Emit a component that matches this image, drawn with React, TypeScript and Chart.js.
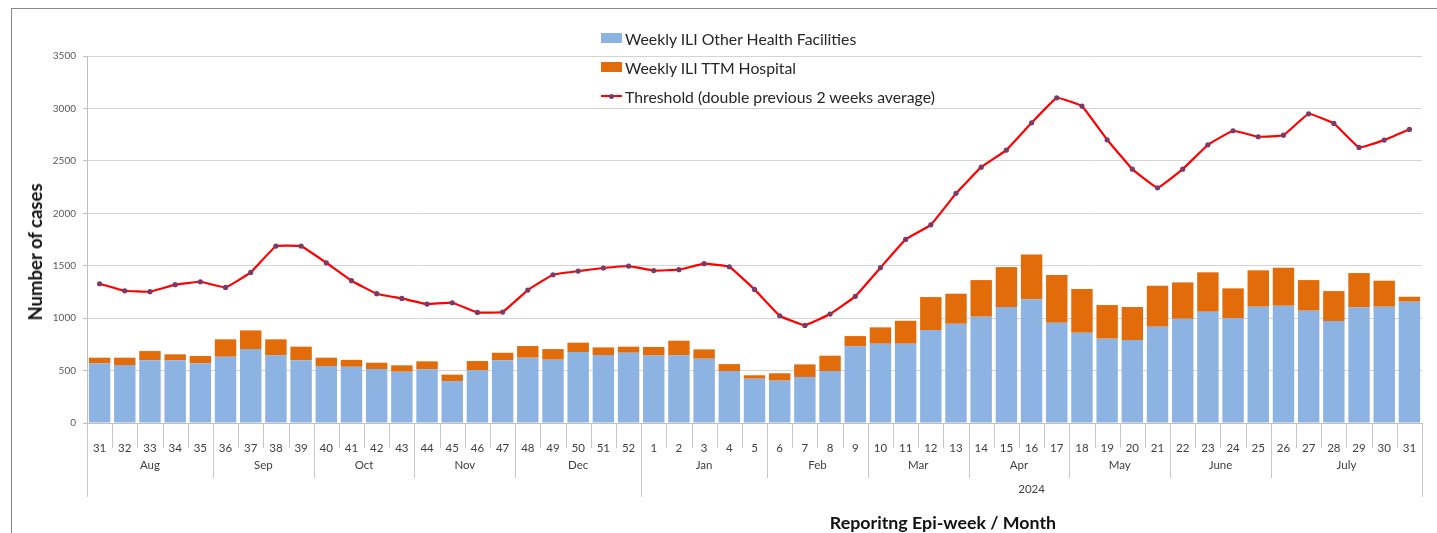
import React, { useEffect, useRef } from "react";
import { Chart, registerables } from "chart.js";

Chart.register(...registerables);

const weeks = [
  "31", "32", "33", "34", "35", "36", "37", "38", "39", "40", "41", "42", "43", "44", "45", "46", "47", "48", "49", "50", "51", "52",
  "1", "2", "3", "4", "5", "6", "7", "8", "9", "10", "11", "12", "13", "14", "15", "16", "17", "18", "19", "20", "21", "22", "23", "24", "25", "26", "27", "28", "29", "30", "31",
];

const otherFacilities = [
  569, 553, 598, 598, 569, 632, 705, 645, 598, 543, 536, 515, 489, 512, 400, 502, 598, 623, 604, 677, 648, 670,
  643, 645, 613, 496, 423, 404, 439, 496, 731, 756, 756, 887, 946, 1014, 1106, 1179, 956, 861, 804, 791, 918, 994, 1061, 1001, 1109, 1118, 1071, 972, 1103, 1109, 1157,
];

const ttmHospital = [
  54, 70, 88, 57, 70, 166, 178, 153, 130, 80, 66, 60, 61, 76, 61, 89, 72, 111, 101, 89, 73, 58,
  82, 140, 89, 66, 32, 70, 120, 146, 98, 156, 219, 314, 287, 349, 381, 429, 455, 416, 321, 315, 391, 347, 376, 283, 347, 363, 292, 286, 327, 248, 47,
];

const threshold = [
  1328, 1261, 1252, 1319, 1347, 1293, 1436, 1687, 1687, 1528, 1357, 1233, 1188, 1134, 1147, 1055, 1058, 1268, 1414, 1449, 1478, 1497,
  1454, 1462, 1519, 1490, 1274, 1023, 931, 1039, 1208, 1481, 1751, 1890, 2190, 2440, 2603, 2863, 3101, 3022, 2701, 2421, 2243, 2421, 2653, 2787, 2730, 2745, 2949, 2857, 2628, 2698, 2800,
];

const monthLabels = ["Aug", "Sep", "Oct", "Nov", "Dec", "Jan", "Feb", "Mar", "Apr", "May", "June", "July"];
const monthWeekCounts = [5, 4, 4, 4, 5, 5, 4, 4, 4, 4, 4, 6];
const yearLabels = ["", "2024"];
const yearWeekCounts = [22, 31];

const yTicks = [0, 500, 1000, 1500, 2000, 2500, 3000, 3500];

const seriesNames = [
  "Weekly ILI Other Health Facilities",
  "Weekly ILI TTM Hospital",
  "Threshold (double previous 2 weeks average)",
];

const BLUE = "#8db3e2";
const ORANGE = "#e36c0a";
const RED = "#ff0000";
const MARKER = "#7a3b6a";
const SEP = "#c6c6c6";
const FONT = "Lato, 'Open Sans', sans-serif";

const hierAxisPlugin = {
  id: "hierAxis",
  afterDraw(chart: any) {
    const ctx = chart.ctx;
    const x = chart.scales.x;
    const bottom = chart.chartArea.bottom;
    const n = weeks.length;
    const step = x.getPixelForValue(1) - x.getPixelForValue(0);
    const edge = (i: number) => x.getPixelForValue(i) - step / 2;
    const weekRow = 25;
    const monthRow = 55;
    const yearRow = 74;

    ctx.save();
    ctx.strokeStyle = SEP;
    ctx.lineWidth = 1;
    const vline = (px: number, len: number) => {
      const xx = Math.round(px) + 0.5;
      ctx.beginPath();
      ctx.moveTo(xx, bottom);
      ctx.lineTo(xx, bottom + len);
      ctx.stroke();
    };
    for (let i = 0; i <= n; i++) vline(edge(i), weekRow);

    let idx = 0;
    ctx.fillStyle = "#404040";
    ctx.font = `11.5px ${FONT}`;
    ctx.textAlign = "center";
    ctx.textBaseline = "middle";
    for (let m = 0; m < monthLabels.length; m++) {
      const start = idx;
      const end = idx + monthWeekCounts[m];
      vline(edge(start), monthRow);
      ctx.fillText(monthLabels[m], (edge(start) + edge(end)) / 2, bottom + 42);
      idx = end;
    }
    vline(edge(n), monthRow);

    idx = 0;
    for (let yI = 0; yI < yearLabels.length; yI++) {
      const start = idx;
      const end = idx + yearWeekCounts[yI];
      vline(edge(start), yearRow);
      if (yearLabels[yI]) ctx.fillText(yearLabels[yI], (edge(start) + edge(end)) / 2, bottom + 66);
      idx = end;
    }
    vline(edge(n), yearRow);
    ctx.restore();
  },
};

export default function App() {
  const canvasRef = useRef<HTMLCanvasElement | null>(null);

  useEffect(() => {
    if (!canvasRef.current) return;
    const chart = new Chart(canvasRef.current, {
      type: "bar",
      data: {
        labels: weeks,
        datasets: [
          {
            type: "line",
            label: seriesNames[2],
            data: threshold,
            borderColor: RED,
            borderWidth: 2.2,
            backgroundColor: RED,
            pointRadius: 2.6,
            pointBackgroundColor: MARKER,
            pointBorderColor: MARKER,
            pointBorderWidth: 0,
            tension: 0.08,
            stack: "thr",
            order: 0,
          } as any,
          {
            type: "bar",
            label: seriesNames[0],
            data: otherFacilities,
            backgroundColor: BLUE,
            stack: "ili",
            categoryPercentage: 1,
            barPercentage: 0.85,
            order: 1,
          },
          {
            type: "bar",
            label: seriesNames[1],
            data: ttmHospital,
            backgroundColor: ORANGE,
            stack: "ili",
            categoryPercentage: 1,
            barPercentage: 0.85,
            order: 1,
          },
        ],
      },
      options: {
        animation: false,
        responsive: false,
        maintainAspectRatio: false,
        layout: { padding: { top: 56, right: 15, bottom: 0, left: 0 } },
        plugins: {
          legend: { display: false },
          tooltip: { enabled: false },
          title: { display: false },
        },
        scales: {
          x: {
            stacked: true,
            offset: true,
            grid: { display: false },
            border: { display: true, color: "#bfbfbf" },
            ticks: {
              autoSkip: false,
              maxRotation: 0,
              minRotation: 0,
              padding: 10,
              color: "#404040",
              font: { family: FONT, size: 11.5 },
            },
            afterFit: (scale: any) => {
              scale.height = 110;
            },
          },
          y: {
            stacked: true,
            min: yTicks[0],
            max: yTicks[yTicks.length - 1],
            afterBuildTicks: (scale: any) => {
              scale.ticks = yTicks.map((v) => ({ value: v }));
            },
            grid: {
              color: "#d4d4d4",
              lineWidth: 1,
              drawTicks: true,
              tickLength: 4,
              tickColor: "#bfbfbf",
            },
            border: { display: true, color: "#bfbfbf" },
            ticks: {
              padding: 7,
              color: "#595959",
              font: { family: FONT, size: 10 },
              callback: (v: any) => String(v),
            },
            afterFit: (scale: any) => {
              scale.width = 87;
            },
          },
        },
      },
      plugins: [hierAxisPlugin],
    });
    return () => chart.destroy();
  }, []);

  const legendRow = (i: number, top: number) => (
    <div
      key={i}
      style={{
        position: "absolute",
        left: 601,
        top: top - 10,
        height: 20,
        display: "flex",
        alignItems: "center",
        fontFamily: FONT,
        fontSize: 15.8,
        color: "#262626",
        whiteSpace: "nowrap",
      }}
    >
      {i < 2 ? (
        <span style={{ display: "inline-block", width: 21, height: 10, background: i === 0 ? BLUE : ORANGE, marginRight: 3 }} />
      ) : (
        <span style={{ position: "relative", display: "inline-block", width: 21, height: 10, marginRight: 3 }}>
          <span style={{ position: "absolute", left: 0, top: 4, width: 21, height: 2, background: RED }} />
          <span style={{ position: "absolute", left: 8, top: 3, width: 5, height: 5, borderRadius: 3, background: MARKER }} />
        </span>
      )}
      <span>{seriesNames[i]}</span>
    </div>
  );

  return (
    <div style={{ position: "fixed", left: 0, top: 0, width: 1437, height: 533, overflow: "hidden", background: "#fff" }}>
      <div
        style={{
          position: "absolute",
          left: 11,
          top: 8,
          width: 1440,
          height: 540,
          border: "1.5px solid #8a8a8a",
        }}
      />
      <canvas ref={canvasRef} width={1437} height={533} style={{ position: "absolute", left: 0, top: 0, width: 1437, height: 533 }} />
      {legendRow(0, 38)}
      {legendRow(1, 67)}
      {legendRow(2, 96)}
      <div
        style={{
          position: "absolute",
          left: 35,
          top: 252,
          transform: "translate(-50%, -50%) rotate(-90deg)",
          fontFamily: FONT,
          fontWeight: 700,
          fontSize: 18.5,
          color: "#111",
          whiteSpace: "nowrap",
        }}
      >
        Number of cases
      </div>
      <div
        style={{
          position: "absolute",
          left: 943,
          top: 522,
          transform: "translate(-50%, -50%)",
          fontFamily: FONT,
          fontWeight: 700,
          fontSize: 17.8,
          color: "#111",
          whiteSpace: "nowrap",
        }}
      >
        Reporitng Epi-week / Month
      </div>
    </div>
  );
}
